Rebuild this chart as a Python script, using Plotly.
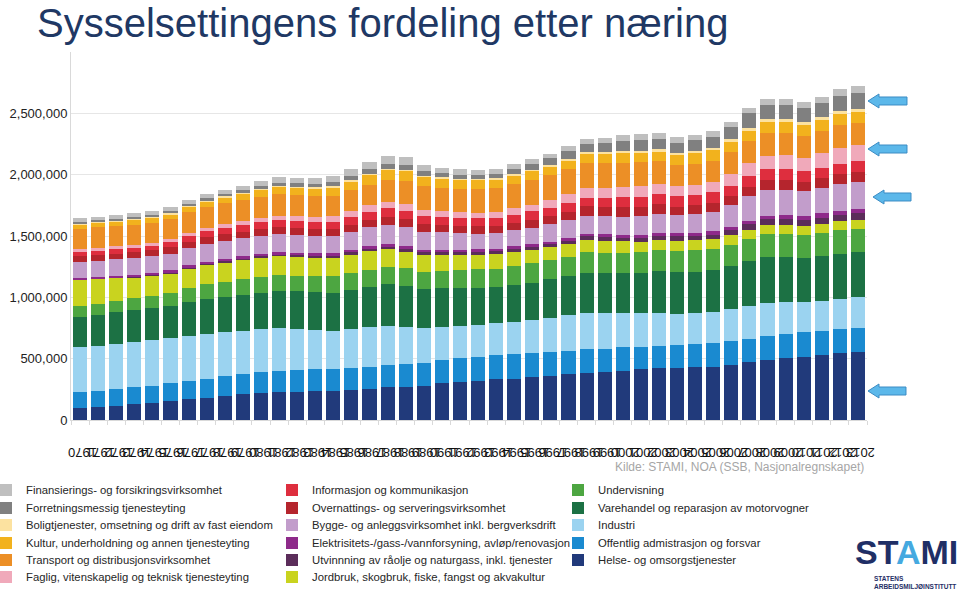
import plotly.graph_objects as go

# ---------------- data (persons employed) ----------------
years = ["1970", "1971", "1972", "1973", "1974", "1975", "1976", "1977", "1978", "1979",
         "1980", "1981", "1982", "1983", "1984", "1985", "1986", "1987", "1988", "1989",
         "1990", "1991", "1992", "1993", "1994", "1995", "1996", "1997", "1998", "1999",
         "2000", "2001", "2002", "2003", "2004", "2005", "2006", "2007", "2008", "2009",
         "2010", "2011", "2012", "2013"]

helse = [95, 106, 117, 128, 138, 155, 169, 182, 196, 209, 223, 228, 232, 235, 237, 244, 253, 266, 272, 280,
         299, 313, 321, 332, 337, 348, 359, 372, 381, 392, 402, 413, 421, 424, 430, 436, 450, 470, 489, 505,
         517, 528, 543, 555]
offentlig = [130, 133, 137, 139, 141, 144, 152, 156, 161, 164, 167, 172, 174, 177, 177, 180, 182, 182, 185, 188,
             190, 190, 196, 198, 201, 201, 198, 193, 196, 190, 190, 185, 182, 188, 188, 190, 190, 192, 196, 198,
             197, 196, 195, 195]
industri = [370, 368, 367, 367, 370, 366, 367, 366, 360, 356, 353, 348, 336, 322, 313, 318, 321, 318, 305, 280,
            266, 264, 256, 258, 264, 266, 272, 288, 294, 288, 277, 272, 269, 255, 252, 253, 262, 268, 269, 255,
            246, 250, 252, 253]
varehandel = [247, 250, 256, 262, 264, 268, 276, 281, 286, 290, 294, 303, 306, 307, 310, 320, 329, 343, 334, 318,
              318, 307, 307, 294, 299, 305, 318, 321, 326, 326, 326, 326, 340, 338, 340, 340, 350, 365, 373, 368,
              358, 362, 367, 367]
undervisning = [87, 92, 94, 96, 98, 102, 112, 120, 124, 128, 131, 131, 130, 131, 134, 137, 141, 141, 141, 144,
                144, 150, 150, 153, 155, 158, 158, 158, 169, 169, 169, 174, 174, 171, 172, 175, 178, 182, 190, 190,
                190, 190, 190, 190]
jordbruk = [212, 198, 184, 172, 166, 163, 161, 160, 160, 159, 158, 157, 156, 155, 154, 153, 152, 141, 136, 136,
            128, 122, 117, 117, 114, 109, 103, 103, 103, 98, 92, 85, 85, 85, 82, 80, 78, 76, 74, 73,
            72, 72, 72, 72]
utvinning = [0, 0, 0, 1, 2, 3, 4, 5, 6, 7, 8, 9, 10, 11, 12, 14, 18, 20, 20, 20,
             22, 22, 22, 22, 24, 24, 26, 28, 30, 30, 30, 30, 32, 35, 36, 38, 40, 42, 44, 48,
             50, 52, 54, 55]
elektrisitet = [19, 19, 19, 20, 20, 20, 20, 20, 21, 21, 21, 21, 21, 21, 22, 22, 22, 22, 22, 22,
                22, 21, 21, 21, 21, 21, 21, 21, 21, 21, 22, 23, 24, 25, 26, 27, 29, 31, 32, 33,
                33, 34, 34, 35]
bygge = [130, 132, 135, 134, 134, 136, 140, 147, 148, 148, 148, 148, 144, 141, 141, 146, 152, 160, 160, 146,
         140, 132, 128, 128, 130, 135, 140, 145, 147, 148, 148, 152, 156, 150, 155, 160, 174, 198, 212, 208,
         200, 206, 216, 218]
overnatting = [46, 46, 47, 48, 49, 50, 50, 51, 52, 53, 55, 56, 57, 57, 56, 59, 60, 62, 62, 61,
               60, 60, 60, 61, 63, 65, 67, 70, 76, 77, 78, 76, 75, 68, 68, 70, 72, 74, 76, 77,
               78, 79, 80, 82]
informasjon = [36, 37, 38, 38, 39, 41, 46, 49, 51, 53, 55, 57, 57, 58, 61, 65, 68, 70, 70, 69,
               68, 67, 66, 66, 67, 68, 68, 68, 68, 72, 80, 85, 87, 87, 85, 86, 88, 90, 92, 90,
               88, 88, 88, 87]
faglig = [19, 20, 21, 22, 23, 24, 25, 27, 29, 31, 35, 37, 38, 40, 43, 48, 54, 56, 55, 50,
          48, 47, 47, 49, 52, 56, 62, 72, 82, 84, 85, 84, 82, 82, 84, 87, 94, 104, 109, 112,
          110, 116, 128, 131]
transport = [170, 170, 168, 166, 166, 166, 170, 170, 171, 171, 172, 173, 171, 170, 168, 166, 166, 178, 188, 190,
             190, 190, 192, 190, 193, 200, 202, 204, 204, 200, 200, 198, 182, 171, 172, 172, 176, 182, 185, 182,
             178, 181, 182, 182]
kultur = [33, 35, 37, 38, 39, 41, 45, 48, 51, 54, 58, 62, 63, 65, 69, 75, 82, 82, 80, 78,
          76, 75, 75, 75, 75, 76, 76, 76, 76, 78, 80, 80, 82, 82, 83, 84, 85, 86, 87, 88,
          88, 89, 90, 90]
bolig = [10, 10, 10, 10, 10, 10, 10, 10, 9, 9, 8, 8, 8, 8, 8, 8, 8, 8, 8, 8,
         8, 8, 8, 9, 9, 10, 10, 11, 11, 12, 13, 14, 16, 19, 20, 20, 21, 22, 22, 23,
         24, 25, 26, 27]
forretning = [11, 11, 12, 12, 13, 13, 14, 16, 18, 20, 24, 26, 27, 29, 33, 36, 41, 42, 43, 36,
              33, 32, 33, 36, 40, 45, 52, 60, 68, 74, 82, 84, 82, 82, 86, 88, 100, 118, 122, 118,
              113, 116, 124, 128]
finans = [32, 32, 32, 33, 33, 33, 33, 34, 36, 38, 40, 42, 43, 45, 48, 54, 58, 60, 62, 54,
          46, 44, 42, 41, 40, 40, 40, 40, 41, 43, 46, 48, 49, 49, 47, 46, 46, 46, 46, 48,
          50, 53, 55, 57]

# (name, values in thousands, colour, legend row, legend column) -- stacking order bottom -> top
series = [
    ("Helse- og omsorgstjenester", helse, "#213A7B", 5, 3),
    ("Offentlig admistrasjon og forsvar", offentlig, "#1A8AD0", 4, 3),
    ("Industri", industri, "#9BD3F0", 3, 3),
    ("Varehandel og reparasjon av motorvogner", varehandel, "#1C7144", 2, 3),
    ("Undervisning", undervisning, "#4DA641", 1, 3),
    ("Jordbruk, skogbruk, fiske, fangst og akvakultur", jordbruk, "#C9D31F", 6, 2),
    ("Utvinnning av råolje og naturgass, inkl. tjenester", utvinning, "#5B2D5A", 5, 2),
    ("Elektrisitets-/gass-/vannforsyning, avløp/renovasjon", elektrisitet, "#8E2A8A", 4, 2),
    ("Bygge- og anleggsvirksomhet inkl. bergverksdrift", bygge, "#C29DCB", 3, 2),
    ("Overnattings- og serveringsvirksomhet", overnatting, "#B5252D", 2, 2),
    ("Informasjon og kommunikasjon", informasjon, "#DE2E3E", 1, 2),
    ("Faglig, vitenskapelig og teknisk tjenesteyting", faglig, "#F0A9BA", 6, 1),
    ("Transport og distribusjonsvirksomhet", transport, "#EC8F26", 5, 1),
    ("Kultur, underholdning og annen tjenesteyting", kultur, "#F2B21D", 4, 1),
    ("Boligtjenester, omsetning og drift av fast eiendom", bolig, "#FCE2A0", 3, 1),
    ("Forretningsmessig tjenesteyting", forretning, "#808080", 2, 1),
    ("Finansierings- og forsikringsvirksomhet", finans, "#BFBFBF", 1, 1),
]

# ---------------- geometry ----------------
W, H = 960, 593
L, R, T, B = 71, 93, 52, 173
PW, PH = W - L - R, H - T - B


def px_x(px):
    return (px - L) / PW


def px_y(py):
    return (H - B - py) / PH


legend_row_y = {1: 490, 2: 508, 3: 525, 4: 543, 5: 560, 6: 577}

fig = go.Figure()
for name, vals, col, row, colnum in series:
    lg = "legend" if row == 1 else f"legend{row}"
    fig.add_trace(go.Bar(
        x=years, y=[v * 1000 for v in vals], name=name,
        marker=dict(color=col, line=dict(width=0)),
        legend=lg, legendrank=colnum,
        hovertemplate="%{x}: %{y:,}<extra>" + name + "</extra>",
    ))

legend_common = dict(
    orientation="h", xref="paper", yref="paper", xanchor="left", yanchor="middle",
    x=px_x(-14), entrywidth=241, entrywidthmode="pixels", traceorder="normal",
    bgcolor="rgba(0,0,0,0)", borderwidth=0, itemwidth=30, tracegroupgap=0,
    font=dict(family="Liberation Sans, Arial, sans-serif", size=11.3, color="#262626"),
    itemclick=False, itemdoubleclick=False,
)
legends = {}
for row, ypx in legend_row_y.items():
    key = "legend" if row == 1 else f"legend{row}"
    legends[key] = dict(legend_common, y=px_y(ypx))

fig.update_layout(
    width=W, height=H,
    margin=dict(l=L, r=R, t=T, b=B, autoexpand=False),
    paper_bgcolor="white", plot_bgcolor="white",
    barmode="stack", bargap=0.22,
    font=dict(family="Liberation Sans, Arial, sans-serif", color="#222222"),
    showlegend=True,
    title=dict(text="Sysselsettingens fordeling etter næring",
               x=37 / W, xref="container", xanchor="left",
               y=1 - 23 / H, yref="container", yanchor="middle",
               font=dict(family="Liberation Sans, Arial, sans-serif", size=40, color="#203864")),
    **legends,
)

fig.update_yaxes(
    range=[0, 3000000], tickmode="array",
    tickvals=[0, 500000, 1000000, 1500000, 2000000, 2500000],
    ticktext=["0", "500,000", "1,000,000", "1,500,000", "2,000,000", "2,500,000"],
    showgrid=True, gridcolor="#E6E6E6", gridwidth=1,
    showline=True, linecolor="#D9D9D9", linewidth=1, zeroline=False,
    ticks="", tickfont=dict(size=13, color="#222222"),
)
fig.update_xaxes(
    type="category", tickmode="linear", dtick=1, tick0=0,
    tickangle=180, showgrid=False,
    showline=True, linecolor="#D9D9D9", linewidth=1,
    ticks="outside", tickson="boundaries", ticklen=4, tickcolor="#D9D9D9",
    tickfont=dict(size=13, color="#111111"), ticklabelstandoff=24, ticklabelshift=-12,
)

# source text
fig.add_annotation(
    text="Kilde: STAMI, NOA (SSB, Nasjonalregnskapet)",
    xref="paper", yref="paper", x=px_x(866), y=px_y(467),
    xanchor="right", yanchor="middle", showarrow=False,
    font=dict(size=12, color="#A6A6A6", family="Liberation Sans, Arial, sans-serif"),
)

# STAMI logo text
fig.add_annotation(
    text="<b>ST<span style='color:#45A9E0'>A</span>MI</b>",
    xref="paper", yref="paper", x=px_x(960), y=px_y(573),
    xanchor="right", yanchor="bottom", showarrow=False,
    font=dict(size=34, color="#1F2F66", family="Liberation Sans, Arial, sans-serif"),
)
fig.add_annotation(
    text="<b>STATENS<br>ARBEIDSMILJØINSTITUTT</b>", align="left",
    xref="paper", yref="paper", x=px_x(958), y=px_y(573),
    xanchor="right", yanchor="top", showarrow=False,
    font=dict(size=6.5, color="#1F2F66", family="Liberation Sans, Arial, sans-serif"),
)

# blue arrows on the right
arrows = [(868, 101, 907), (868, 149, 907), (873, 197, 911), (868, 391, 906)]
for tip, yc, tail in arrows:
    hx = tip + 11
    pts = [(tip, yc), (hx, yc - 7), (hx, yc - 4), (tail, yc - 4), (tail, yc + 4), (hx, yc + 4), (hx, yc + 7)]
    path = "M " + " L ".join(f"{px_x(a):.5f},{px_y(b):.5f}" for a, b in pts) + " Z"
    fig.add_shape(type="path", path=path, xref="paper", yref="paper",
                  fillcolor="#5CB8EA", line=dict(color="#3C8CC4", width=1), layer="above")

fig.write_html("out.html")
